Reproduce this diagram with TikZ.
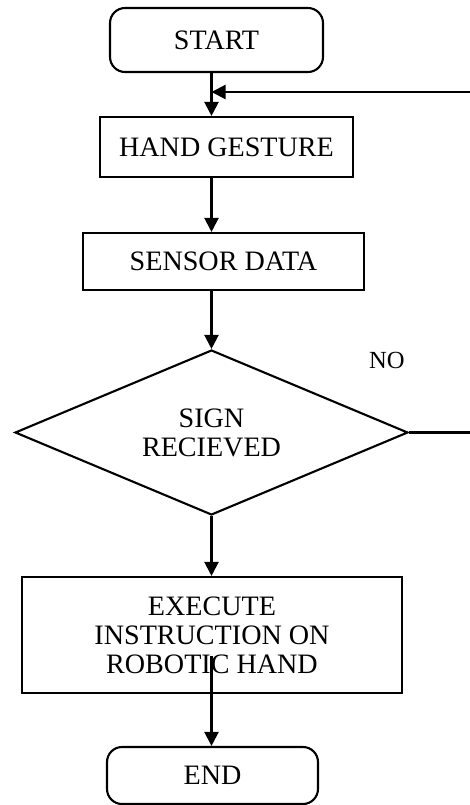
\documentclass[tikz,border=0pt]{standalone}
\usepackage{fontspec}
\setmainfont{Liberation Serif}
\usetikzlibrary{shapes.geometric,arrows.meta}

\begin{document}
\begin{tikzpicture}[x=0.02cm,y=-0.02cm,line width=1.2pt]
    % `terminal' is used for START and END (rounded boxes).
    % `process' is used for the plain boxes.
    % `decision' is used for the diamond.
    \tikzstyle{terminal} = [draw,rounded corners=3mm,align=center]
    \tikzstyle{process} = [draw,align=center]
    \tikzstyle{decision} = [draw,shape=diamond,shape aspect=2.4,inner sep=0pt,align=center]
    \tikzstyle{flow} = [-{Triangle[length=8pt,width=8pt]}]
    \fontsize{16}{16.5}\selectfont
    \useasboundingbox (0,0) rectangle (470,805);
    %
    \node[terminal,minimum width=4.26cm,minimum height=1.28cm] (start) at (216.5,40) {START};
    \node[process,minimum width=5.06cm,minimum height=1.2cm] (gesture) at (226.5,147) {HAND GESTURE};
    \node[process,minimum width=5.62cm,minimum height=1.14cm] (sensor) at (223.5,261.5) {SENSOR DATA};
    \node[decision,minimum width=7.86cm,minimum height=3.3cm] (sign) at (211.5,432.5) {SIGN\\RECIEVED};
    \node[font=\fontsize{14}{16}\selectfont] (no) at (387,360) {NO};
    \node[process,minimum width=7.6cm,minimum height=2.32cm] (execute) at (212,635)
        {EXECUTE\\INSTRUCTION ON\\ROBOTIC HAND};
    \node[terminal,minimum width=4.22cm,minimum height=1.14cm] (finish) at (212.5,775.5) {END};
    %
    \coordinate (spine) at (211.5,0);
    \coordinate (loopout) at (470,432.5);
    \coordinate (loopin) at (470,92);
    % Draw lines.
    \draw[flow] (start.south -| spine) -- (gesture.north -| spine);
    \draw[flow] (gesture.south -| spine) -- (sensor.north -| spine);
    \draw[flow] (sensor.south -| spine) -- (sign.north);
    \draw[flow] (sign.south) -- (execute.north -| spine);
    \draw[flow] ([yshift=0.76cm]execute.south -| spine) -- (finish.north -| spine);
    % NO branch back to the top.
    \draw (sign.east) -- (loopout);
    \draw[flow] (loopin) -- (loopin -| spine);
\end{tikzpicture}
\end{document}
